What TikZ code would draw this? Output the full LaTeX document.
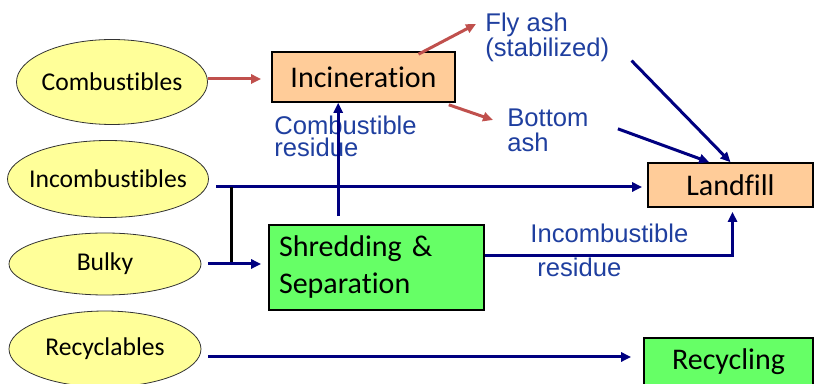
\documentclass[tikz,border=0pt]{standalone}
\usepackage{fontspec}
\setmainfont[Ligatures=NoCommon]{Carlito}
\newfontfamily\notefont{Liberation Sans}
\usepackage{tikz}
\usetikzlibrary{arrows.meta,positioning,calc,shapes.geometric}
\definecolor{Feed}{HTML}{FFFF99}
\definecolor{Burn}{HTML}{FFCC99}
\definecolor{Sort}{HTML}{66FF66}
\definecolor{Ash}{HTML}{C0504D}
\definecolor{Flow}{HTML}{000080}
\definecolor{Note}{HTML}{1F3F9F}

\begin{document}
\begin{tikzpicture}[x=.5pt,y=-.5pt,
  src/.style={ellipse,draw=black!80,line width=.4pt,fill=Feed,inner xsep=-4pt,inner ysep=0pt,font=\fontsize{12.8}{15}\selectfont},
  plant/.style={draw=black,line width=.8pt,inner sep=0pt,font=\fontsize{15}{18.5}\selectfont},
  note/.style={text=Note,inner sep=0pt,align=left,font=\notefont\fontsize{12.8}{12.5}\selectfont},
  flow/.style={Flow,line width=1.5pt,-{Triangle[length=5pt,width=4.5pt]}},
  ash/.style={Ash,line width=1.5pt,-{Triangle[length=5pt,width=4.5pt]}}]
\useasboundingbox (0,0) rectangle (814,384);
% waste streams
\node[src,minimum width=95.5pt,minimum height=42.5pt] (comb) at (112,82) {Combustibles};
\node[src,minimum width=100.5pt,minimum height=38.5pt] (incomb) at (108,179) {Incombustibles};
\node[src,minimum width=96pt,minimum height=31pt] (bulky) at (105,264) {Bulky};
\node[src,minimum width=96pt,minimum height=38pt] (recyc) at (105,349) {Recyclables};
% treatment
\node[plant,fill=Burn,minimum width=91.5pt,minimum height=25pt] (incin) at (363.5,77) {Incineration};
\node[plant,fill=Burn,minimum width=82.5pt,minimum height=22pt] (landfill) at (730.5,185) {Landfill};
\node[plant,fill=Sort,minimum width=107.5pt,minimum height=42.5pt,inner xsep=5pt,text width=97.5pt,align=left] (shred) at (376.5,267.5) {Shredding\ \&\\Separation};
\node[plant,fill=Sort,minimum width=84.5pt,minimum height=24pt] (recycling) at (728.5,362) {Recycling};
% residues
\node[note,anchor=north west] (fly) at (485,13) {Fly ash\\(stabilized)};
\node[note,anchor=north west] (bottom) at (507,108) {Bottom\\ash};
\node[note,anchor=north west,font=\notefont\fontsize{12.8}{11}\selectfont] (combres) at (274,116) {Combustible\\residue};
\node[note,anchor=north west,font=\notefont\fontsize{12.8}{17}\selectfont] (incombres) at (530,224) {Incombustible\\\hspace*{3.5pt}residue};
% junctions
\coordinate (tap) at (216,187);
\coordinate (join) at (231,187);
\coordinate (rise) at ($(shred.north west)+(70,-8)$);
\coordinate (sortout) at ($(shred.east)+(0,-11.5)$);
\coordinate (recout) at ($(recyc.east)+(7,8)$);

\draw[ash,shorten >=5pt] (comb.east |- 0,79) -- (incin.west |- 0,79);
\draw[ash] ($(incin.north)+(55,3)$) -- ($(fly.north west)+(-9,11)$);
\draw[ash] ($(incin.south east)+(-7,2)$) -- ($(bottom.north west)+(-14,12)$);
\draw[flow] ($(fly.south east)+(22,-2)$) -- (landfill.north);
\draw[flow] ($(bottom.east)+(29,-1)$) -- ($(landfill.north west)+(62,0)$);
\draw[flow,shorten >=2.5pt] (tap) -- (tap -| landfill.west);
\draw[black,line width=1.5pt] (join) -- (join |- bulky);
\draw[flow,shorten <=3.5pt,shorten >=3.5pt] (bulky.east) -- (bulky.east -| shred.west);
\draw[flow] (rise) -- (rise |- incin.south);
\draw[flow,shorten >=2pt] (sortout) -| ($(landfill.south)+(2,0)$);
\draw[flow,shorten >=6pt] (recout) -- (recout -| recycling.west);
\end{tikzpicture}
\end{document}
